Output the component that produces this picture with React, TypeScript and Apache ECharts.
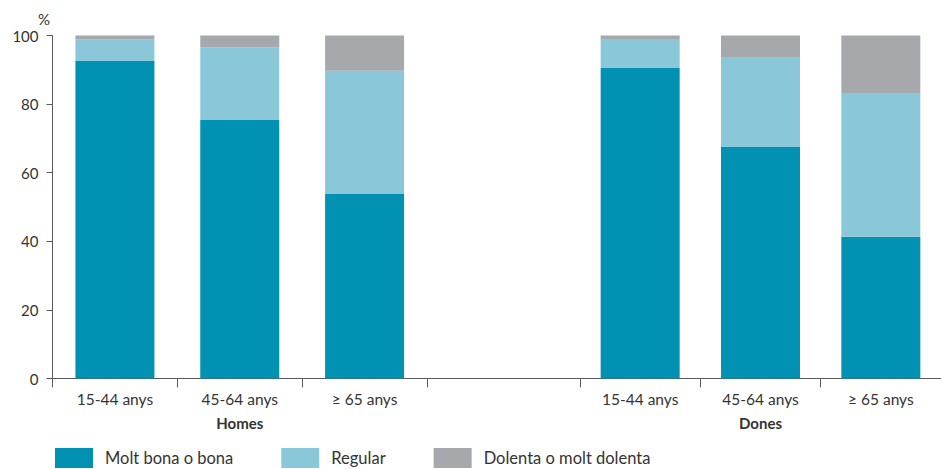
import React, { useEffect, useRef } from "react";
import * as echarts from "echarts";

// Self-rated health by age group, men (Homes) and women (Dones), in %
const ageGroups = ["15-44 anys", "45-64 anys", "≥ 65 anys"];
const sexGroups = ["Homes", "Dones"];
const seriesNames = ["Molt bona o bona", "Regular", "Dolenta o molt dolenta"];

const homesBona = [92.6, 75.4, 53.8];
const homesRegular = [6.3, 21.2, 35.9];
const homesDolenta = [1.1, 3.4, 10.3];

const donesBona = [90.5, 67.5, 41.3];
const donesRegular = [8.5, 26.2, 41.9];
const donesDolenta = [1.0, 6.3, 16.8];

const yTicks = [0, 20, 40, 60, 80, 100];

const COLORS = ["#0091b3", "#8ac7d8", "#a7a8ac"];
const TEXT = "#333333";
const AXIS = "#5a5a5a";
const FONT = "Lato, 'Noto Sans', sans-serif";

export default function App() {
  const ref = useRef<HTMLDivElement>(null);

  useEffect(() => {
    if (!ref.current) return;
    const chart = echarts.init(ref.current, undefined, { renderer: "svg" });

    const top = 35.5;
    const bottom = 90.5;

    const xAxisBase = (gridIndex: number, name: string) => ({
      type: "category" as const,
      gridIndex,
      data: ageGroups,
      name,
      nameLocation: "middle" as const,
      nameGap: 37,
      nameTextStyle: { color: TEXT, fontSize: 15, fontWeight: "bold" as const, fontFamily: FONT },
      axisLine: { show: true, lineStyle: { color: AXIS, width: 1 } },
      axisTick: { show: true, length: 9, lineStyle: { color: AXIS } },
      axisLabel: { color: TEXT, fontSize: 15.5, margin: 12, fontFamily: FONT },
      splitLine: { show: false },
    });

    const yMax = yTicks[yTicks.length - 1];
    const yStep = yTicks[1] - yTicks[0];

    const groups = [
      { stack: "homes", values: [homesBona, homesRegular, homesDolenta] },
      { stack: "dones", values: [donesBona, donesRegular, donesDolenta] },
    ];

    const series: any[] = [];
    groups.forEach((g, gi) => {
      g.values.forEach((vals, si) => {
        series.push({
          type: "bar",
          name: seriesNames[si],
          xAxisIndex: gi,
          yAxisIndex: gi,
          stack: g.stack,
          barWidth: 79,
          data: vals,
          itemStyle: { color: COLORS[si] },
        });
      });
    });

    chart.setOption({
      animation: false,
      textStyle: { fontFamily: FONT },
      grid: [
        { left: 52.5, right: 941 - 427, top, bottom, containLabel: false },
        { left: 580, right: -5, top, bottom, containLabel: false },
      ],
      xAxis: [xAxisBase(0, sexGroups[0]), xAxisBase(1, sexGroups[1])],
      yAxis: [
        {
          type: "value",
          gridIndex: 0,
          min: 0,
          max: yMax,
          interval: yStep,
          axisLine: { show: true, lineStyle: { color: AXIS, width: 1 } },
          axisTick: { show: true, length: 6, lineStyle: { color: AXIS } },
          axisLabel: { color: TEXT, fontSize: 15, margin: 14, fontFamily: FONT },
          splitLine: { show: false },
        },
        {
          type: "value",
          gridIndex: 1,
          min: 0,
          max: yMax,
          interval: yStep,
          show: false,
          splitLine: { show: false },
        },
      ],
      legend: {
        left: 55,
        top: 448,
        padding: 0,
        itemWidth: 38,
        itemHeight: 20,
        itemGap: 48,
        icon: "rect",
        data: seriesNames,
        textStyle: { color: TEXT, fontSize: 16.5, fontFamily: FONT, padding: [2, 0, 0, 7] },
      },
      graphic: [
        {
          type: "text",
          left: 38,
          top: 11,
          style: { text: "%", fill: TEXT, fontSize: 15, fontFamily: FONT },
        },
        {
          // axis baseline across the gap between the two groups
          type: "line",
          shape: { x1: 427, y1: 469 - bottom, x2: 580, y2: 469 - bottom },
          style: { stroke: AXIS, lineWidth: 1 },
          silent: true,
        },
      ],
      series,
    });

    return () => chart.dispose();
  }, []);

  return (
    <div
      ref={ref}
      style={{ position: "fixed", left: 0, top: 0, width: 941, height: 469, background: "#fff" }}
    />
  );
}
